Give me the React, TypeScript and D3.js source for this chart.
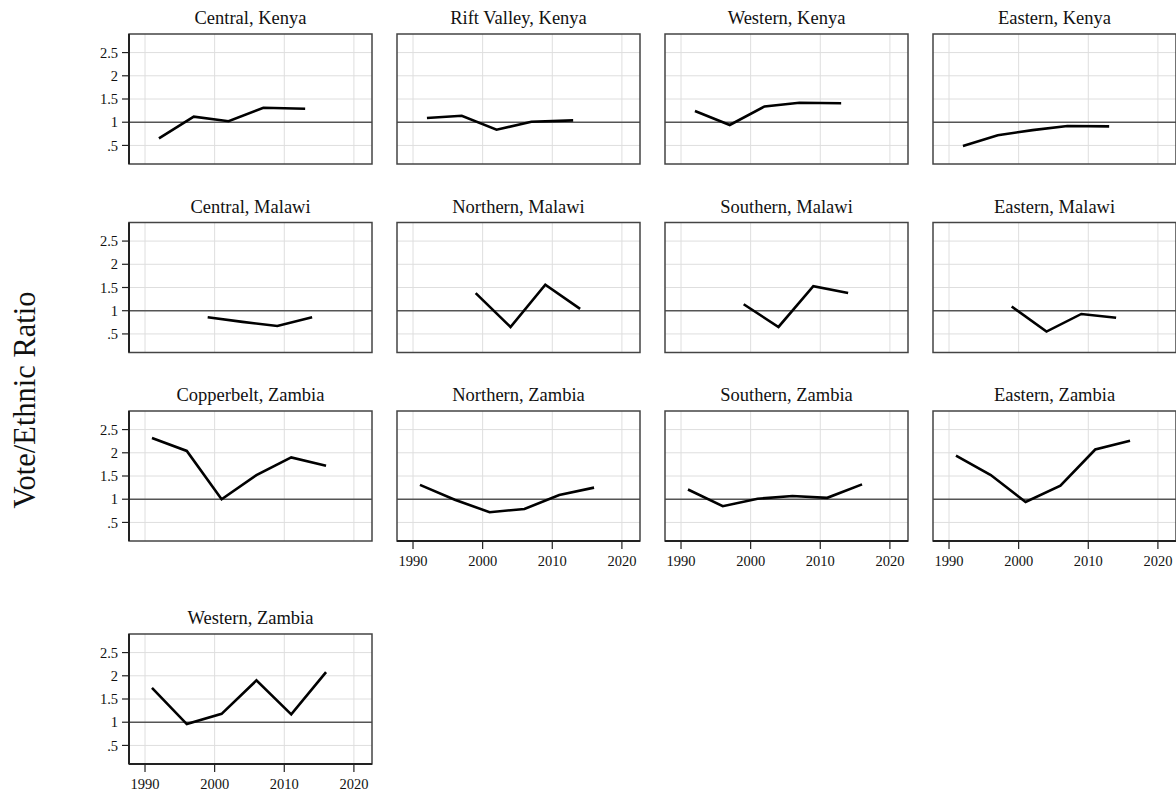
import * as d3 from "d3";

// election years by country
const kenyaYears = [1992, 1997, 2002, 2007, 2013];
const malawiYears = [1999, 2004, 2009, 2014];
const zambiaYears = [1991, 1996, 2001, 2006, 2011, 2016];

// vote/ethnic ratio per region
const centralKenya = [0.65, 1.12, 1.02, 1.31, 1.29];
const riftValleyKenya = [1.09, 1.14, 0.84, 1.01, 1.04];
const westernKenya = [1.24, 0.94, 1.34, 1.42, 1.41];
const easternKenya = [0.49, 0.72, 0.83, 0.92, 0.91];
const centralMalawi = [0.86, 0.76, 0.67, 0.86];
const northernMalawi = [1.38, 0.65, 1.56, 1.04];
const southernMalawi = [1.14, 0.65, 1.53, 1.38];
const easternMalawi = [1.09, 0.55, 0.93, 0.85];
const copperbeltZambia = [2.32, 2.04, 1.0, 1.52, 1.9, 1.72];
const northernZambia = [1.31, 0.99, 0.72, 0.79, 1.09, 1.25];
const southernZambia = [1.21, 0.85, 1.01, 1.07, 1.03, 1.32];
const easternZambia = [1.94, 1.52, 0.94, 1.29, 2.07, 2.26];
const westernZambia = [1.74, 0.96, 1.18, 1.9, 1.17, 2.08];

const panelTitles = [
  "Central, Kenya", "Rift Valley, Kenya", "Western, Kenya", "Eastern, Kenya",
  "Central, Malawi", "Northern, Malawi", "Southern, Malawi", "Eastern, Malawi",
  "Copperbelt, Zambia", "Northern, Zambia", "Southern, Zambia", "Eastern, Zambia",
  "Western, Zambia",
];
const panelYears = [
  kenyaYears, kenyaYears, kenyaYears, kenyaYears,
  malawiYears, malawiYears, malawiYears, malawiYears,
  zambiaYears, zambiaYears, zambiaYears, zambiaYears, zambiaYears,
];
const panelValues = [
  centralKenya, riftValleyKenya, westernKenya, easternKenya,
  centralMalawi, northernMalawi, southernMalawi, easternMalawi,
  copperbeltZambia, northernZambia, southernZambia, easternZambia, westernZambia,
];

const xTicks = [1990, 2000, 2010, 2020];
const yTicks = [0.5, 1, 1.5, 2, 2.5];
const yTickLabels = [".5", "1", "1.5", "2", "2.5"];

const width = 1176,
  height = 792;
const nCols = 4;
const plotW = 243,
  plotH = 130;
const left0 = 129,
  colStep = 268;
const top0 = 34,
  rowGap = 58.5,
  axisSpace = 34.5;
const font = "'Liberation Serif', 'Times New Roman', serif";

const x = d3.scaleLinear().domain([1987.7, 2022.6]).range([0, plotW]);
const y = d3.scaleLinear().domain([0.1, 2.9]).range([plotH, 0]);

export default function App() {
  const n = panelTitles.length;
  const nRows = Math.ceil(n / nCols);
  const hasXAxis = (i: number) => i + nCols >= n;

  // row tops, leaving room under rows that carry x labels
  const rowTops: number[] = [];
  for (let r = 0; r < nRows; r++) {
    if (r === 0) rowTops.push(top0);
    else {
      const prevHasAxis = d3.range((r - 1) * nCols, r * nCols).some((i) => i < n && hasXAxis(i));
      rowTops.push(rowTops[r - 1] + plotH + rowGap + (prevHasAxis ? axisSpace : 0));
    }
  }

  const line = d3
    .line<[number, number]>()
    .x((d) => x(d[0]))
    .y((d) => y(d[1]));

  return (
    <svg
      width={width}
      height={height}
      style={{ position: "absolute", left: 0, top: 0, background: "#fff" }}
      fontFamily={font}
    >
      <text
        transform={`translate(35, 400) rotate(-90)`}
        textAnchor="middle"
        fontSize={30.5}
        fill="#111"
      >
        Vote/Ethnic Ratio
      </text>
      {panelTitles.map((title, i) => {
        const col = i % nCols;
        const row = Math.floor(i / nCols);
        const tx = left0 + col * colStep;
        const ty = rowTops[row];
        const pts = panelYears[i].map((yr, k) => [yr, panelValues[i][k]] as [number, number]);
        return (
          <g key={title} transform={`translate(${tx},${ty})`}>
            <text x={plotW / 2} y={-10} textAnchor="middle" fontSize={18.5} fill="#111">
              {title}
            </text>
            <rect width={plotW} height={plotH} fill="#fff" />
            {yTicks
              .filter((t) => t !== 1)
              .map((t) => (
                <line key={"gy" + t} x1={0} x2={plotW} y1={y(t)} y2={y(t)} stroke="#dedede" strokeWidth={1} />
              ))}
            {xTicks.map((t) => (
              <line key={"gx" + t} x1={x(t)} x2={x(t)} y1={0} y2={plotH} stroke="#dedede" strokeWidth={1} />
            ))}
            <line x1={0} x2={plotW} y1={y(1)} y2={y(1)} stroke="#555" strokeWidth={1.5} />
            <path d={line(pts) ?? ""} fill="none" stroke="#000" strokeWidth={2.6} />
            <rect width={plotW} height={plotH} fill="none" stroke="#444" strokeWidth={1.5} />
            {col === 0 && (
              <g>
                <line x1={0} x2={0} y1={0} y2={plotH} stroke="#222" strokeWidth={2} />
                {yTicks.map((t, k) => (
                  <g key={"ty" + t} transform={`translate(0,${y(t)})`}>
                    <line x1={-7} x2={0} stroke="#222" strokeWidth={1.2} />
                    <text x={-11} dy="0.35em" textAnchor="end" fontSize={14.5} fill="#111">
                      {yTickLabels[k]}
                    </text>
                  </g>
                ))}
              </g>
            )}
            {hasXAxis(i) && (
              <g transform={`translate(0,${plotH})`}>
                <line x1={0} x2={plotW} stroke="#222" strokeWidth={2} />
                {xTicks.map((t) => (
                  <g key={"tx" + t} transform={`translate(${x(t)},0)`}>
                    <line y1={0} y2={8} stroke="#222" strokeWidth={1.2} />
                    <text y={25} textAnchor="middle" fontSize={14.5} fill="#111">
                      {t}
                    </text>
                  </g>
                ))}
              </g>
            )}
          </g>
        );
      })}
    </svg>
  );
}
